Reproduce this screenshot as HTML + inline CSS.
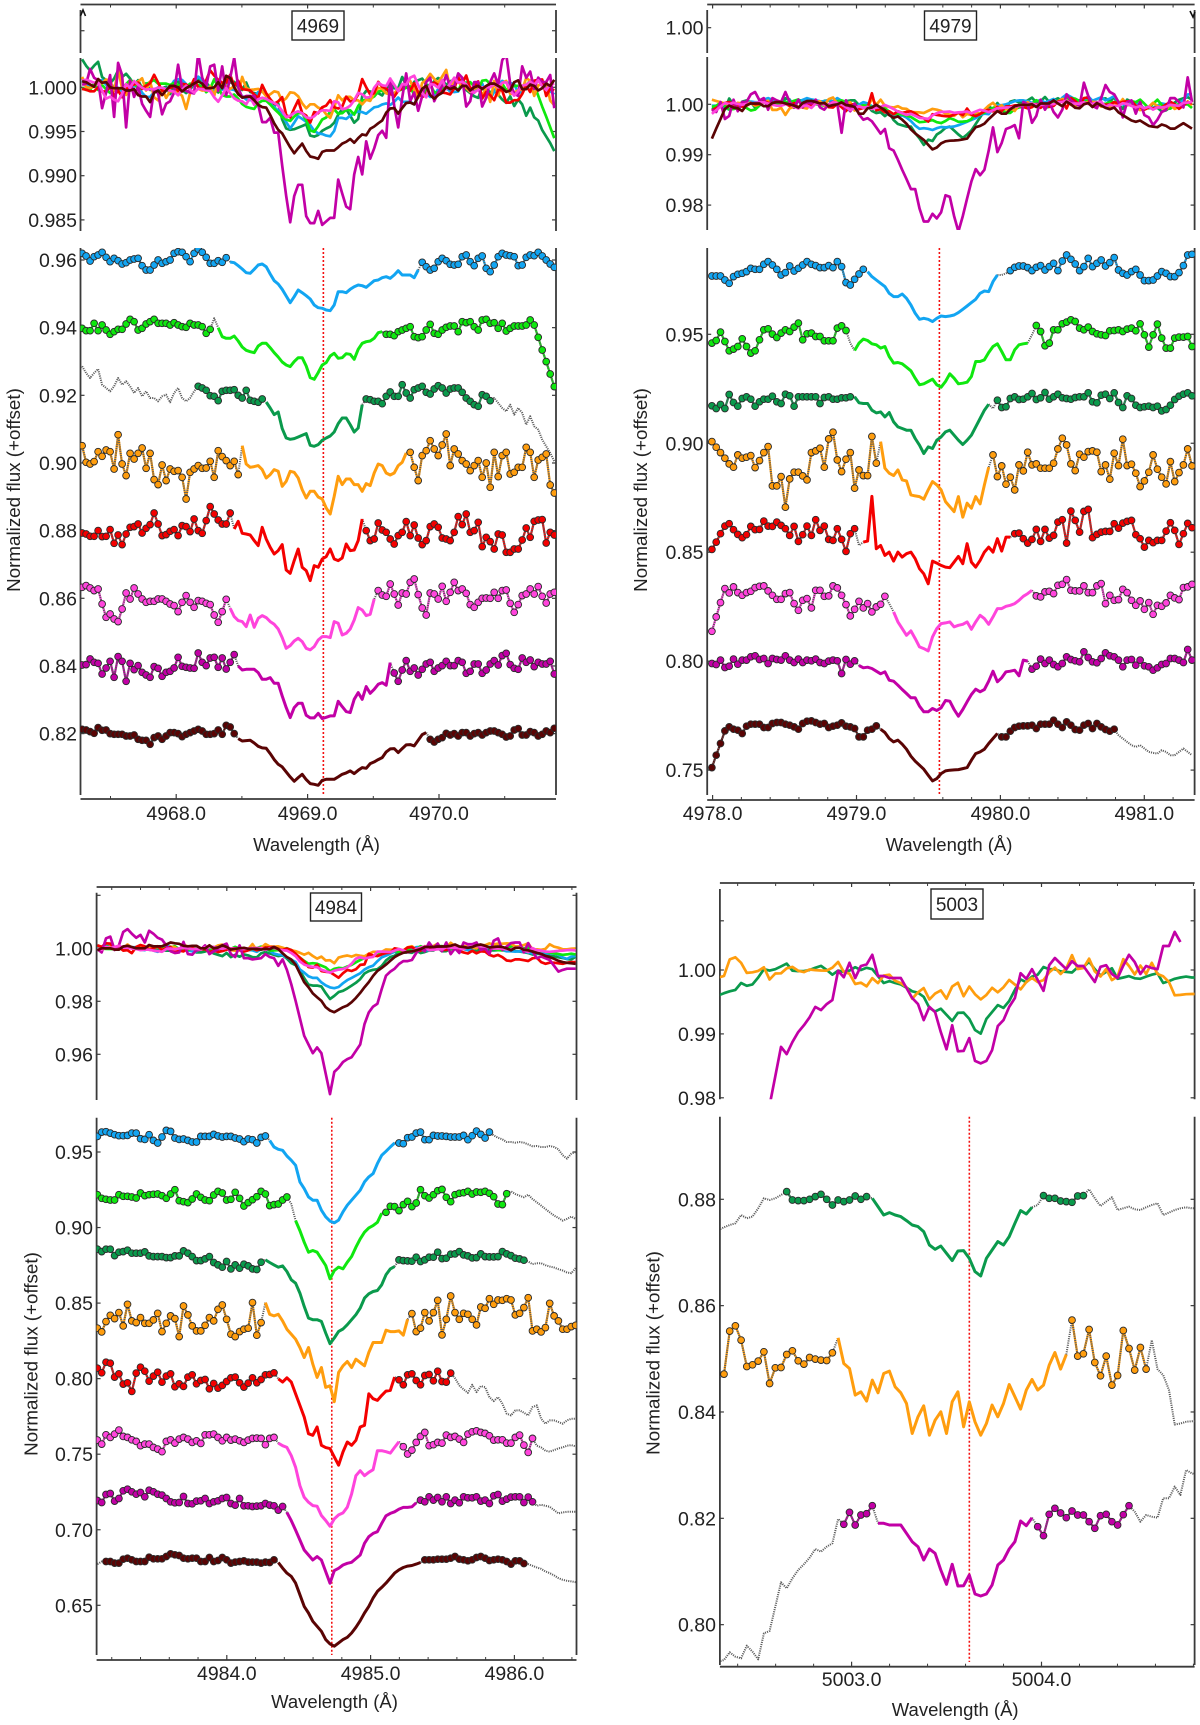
<!DOCTYPE html>
<html lang="en">
<head>
<meta charset="utf-8">
<title>Normalized flux line profiles</title>
<style>
html,body{margin:0;padding:0;background:#fff;}
svg{display:block;font-family:"Liberation Sans",sans-serif;}
text{fill:#222;}
</style>
</head>
<body>
<svg id="figure" width="1200" height="1725" viewBox="0 0 1200 1725" xmlns="http://www.w3.org/2000/svg"></svg>
<script>
/* ---------- shared series labels ---------- */
const seriesNames = ['blue','green','dark-green','orange','red','pink','magenta','maroon'];
const seriesColors = {'blue':'#12a5f2','green':'#0fe80f','dark-green':'#0a9a4c','orange':'#ff9d0e','red':'#f40000','pink':'#ff44dc','magenta':'#c200a6','maroon':'#5a0404'};
const upperDrawOrder = ['dark-green','blue','green','orange','red','magenta','pink','maroon'];

/* ---------- line 4969 ---------- */
const ticksX4969 = [4968,4969,4970];
const minorX4969 = [4967.5,4968.5,4969.5,4970.5];
const labelsX4969 = ['4968.0','4969.0','4970.0'];
const ticksUp4969 = [1.0064,1,0.995,0.99,0.985];
const labelsUp4969 = ['','1.000','0.995','0.990','0.985'];
const ticksLo4969 = [0.96,0.94,0.92,0.90,0.88,0.86,0.84,0.82];
const labelsLo4969 = ['0.96','0.94','0.92','0.90','0.88','0.86','0.84','0.82'];
const offsets4969 = [0.96,0.94,0.92,0.90,0.88,0.86,0.84,0.82];
const upperScale4969 = [0.37,0.33,0.37,0.23,0.27,0.23,1.0,0.53];
const windows4969 = [[0,36,37,84,85,118],[0,32,34,75,76,118],[29,45,46,70,71,102],[0,39,40,81,82,118],[0,37,38,70,71,118],[0,36,37,73,74,118],[0,38,39,77,78,118],[0,38,39,86,87,118]];
const flux4969Blue = [20,12,-3,10,15,23,8,-5,5,-2,-12,-8,0,3,5,-17,-30,-30,-15,0,-10,-5,0,20,25,23,10,-5,20,33,23,8,-10,-10,-2,-7,7,-6,-8,-17,-27,-38,-40,-28,-15,-12,-20,-42,-62,-72,-88,-108,-128,-110,-90,-98,-107,-117,-135,-143,-145,-150,-152,-135,-95,-95,-98,-88,-80,-75,-77,-82,-72,-62,-60,-53,-50,-55,-45,-32,-45,-45,-45,-53,-30,-7,-20,-30,-25,-5,5,-2,-13,-15,-13,10,15,-5,-17,5,12,-25,-35,-15,10,20,15,13,10,-17,-15,8,15,13,23,12,0,-12,-22];
const flux4969Green = [-2,-9,-9,13,-9,8,-7,-20,-12,-5,-5,11,25,18,-7,-2,11,18,25,13,13,13,8,15,8,3,1,13,8,8,3,-17,-5,28,0,-27,-32,-32,-25,-40,-58,-68,-72,-75,-55,-47,-47,-60,-75,-88,-103,-112,-117,-102,-90,-90,-115,-150,-155,-135,-112,-105,-85,-77,-92,-90,-78,-80,-95,-65,-47,-42,-40,-32,-15,-12,-20,-20,-24,-12,-7,-2,3,-27,-30,-27,-7,10,-17,-20,-7,1,5,5,-12,18,15,18,3,-7,23,25,13,15,-2,13,-10,-2,5,5,5,8,23,8,-29,-67,-102,-139,-177];
const flux4969DarkGreen = [87,67,52,67,79,32,22,12,27,52,32,42,27,7,22,-3,12,-8,-8,-18,-3,2,-21,7,22,-8,-18,-8,12,27,22,15,-1,-3,-16,12,15,15,17,0,-8,15,-15,-18,-21,-11,-20,-38,-58,-50,-100,-128,-132,-130,-125,-120,-115,-150,-153,-148,-135,-128,-122,-110,-85,-68,-68,-88,-110,-98,-28,-11,-13,-18,-18,-25,-3,10,-3,-3,32,7,-8,17,22,27,9,4,19,29,22,7,19,22,22,9,-8,-18,-28,-33,2,-3,-16,-8,-23,-38,-48,-28,-58,-38,-53,-88,-63,-93,-103,-133,-153,-173,-198];
const flux4969Orange = [52,2,-3,4,34,20,39,34,-18,85,-3,-38,29,12,29,45,-16,29,-50,-65,-6,-53,-18,-25,-23,-43,-108,-28,-18,-8,-16,-15,5,-43,37,19,7,-8,5,-35,52,-3,-13,-11,-8,-20,-45,-35,-20,-25,-70,-55,-25,-28,-45,-80,-105,-85,-85,-102,-108,-135,-153,-100,-40,-65,-48,-48,-65,-65,-85,-62,-68,-30,-3,-8,-30,-36,-30,-8,2,30,32,-13,-53,22,37,67,42,22,54,87,-8,42,27,7,-3,-23,-8,7,-43,0,-73,32,-41,22,32,-33,-28,-13,-13,47,32,-43,9,17,27,-66,-90];
const flux4969Red = [-7,-10,-17,-17,0,-18,-17,3,-38,-13,-42,-10,10,12,20,-7,7,18,53,20,-15,-12,-2,3,-15,15,12,-3,35,0,-8,30,72,50,32,20,20,53,5,28,-8,-10,-13,-30,-45,10,-25,-50,-70,-60,-42,-118,-128,-90,-55,-110,-120,-150,-105,-110,-85,-78,-55,-85,-90,-82,-40,-60,-58,-30,35,0,-30,-25,23,2,-5,-25,-40,-15,-5,27,-15,17,-22,-42,-30,12,20,10,-22,-25,-30,-5,42,18,50,-5,0,25,-48,-20,-33,-55,-10,-13,-65,-65,-55,-55,-28,8,-20,28,32,33,-37,-5,-13];
const flux4969Pink = [33,38,31,23,28,-17,-57,-47,-62,-70,-32,16,-2,31,13,-2,-12,-9,-9,-2,-2,-9,-17,-22,-40,-12,8,-12,-27,-7,-9,-15,-19,-50,-72,-40,-3,-30,-55,-67,-70,-85,-50,-87,-60,-52,-58,-70,-78,-92,-118,-150,-142,-128,-120,-130,-150,-155,-145,-125,-115,-115,-118,-70,-75,-110,-105,-92,-65,-28,-35,-52,-48,-2,23,10,6,43,13,-20,16,13,48,58,11,-29,-50,16,13,-2,36,-9,18,48,23,28,15,-19,-27,-12,0,1,0,18,0,23,25,-15,-42,-19,8,13,28,13,35,6,-14,13,18];
const flux4969Magenta = [3,4,21,11,8,-24,-6,14,-34,28,14,-46,8,-11,1,-19,-27,-34,-2,-7,-31,-19,-16,-6,26,-1,-4,-6,-7,39,11,1,24,26,-4,24,-9,11,34,0,-12,-10,-10,-10,-20,-40,-40,-35,-52,-52,-90,-125,-155,-125,-112,-112,-148,-156,-156,-142,-158,-154,-150,-150,-106,-122,-137,-140,-100,-80,-100,-62,-82,-70,-55,-50,-58,10,-21,-46,-12,16,-16,-6,-27,-10,6,11,-16,-6,1,14,1,1,16,11,-22,-16,6,6,-22,-12,6,16,3,31,38,4,-7,-10,24,11,18,-2,11,6,6,14,-24];
const flux4969Maroon = [13,11,6,1,18,10,11,0,-2,-2,-2,-7,-7,-4,-17,-20,-20,-32,-12,-7,-17,-7,3,3,0,-9,-2,3,8,13,8,-2,-2,0,11,-2,25,20,0,-15,-22,-21,-20,-28,-38,-43,-44,-60,-78,-92,-100,-115,-130,-143,-132,-122,-138,-150,-152,-155,-140,-137,-137,-137,-130,-122,-118,-112,-120,-110,-102,-104,-90,-85,-78,-72,-55,-46,-45,-57,-45,-34,-33,-37,-20,-3,3,-17,-25,-17,-12,1,-4,0,-7,3,3,-7,0,3,-4,3,8,8,3,-2,-10,-7,11,15,-4,-4,6,3,-7,-2,8,3,16];

/* ---------- line 4979 ---------- */
const ticksX4979 = [4978,4979,4980,4981];
const minorX4979 = [4978.2,4978.4,4978.6,4978.8,4979.2,4979.4,4979.6,4979.8,4980.2,4980.4,4980.6,4980.8,4981.2];
const labelsX4979 = ['4978.0','4979.0','4980.0','4981.0'];
const ticksUp4979 = [1.0152,1,0.99,0.98];
const labelsUp4979 = ['1.00','1.00','0.99','0.98'];
const ticksLo4979 = [0.95,0.90,0.85,0.80,0.75];
const labelsLo4979 = ['0.95','0.90','0.85','0.80','0.75'];
const offsets4979 = [0.978,0.949,0.919,0.8916,0.860,0.831,0.80,0.7706];
const upperScale4979 = [0.23,0.16,0.34,0.10,0.14,0.11,1.0,0.35];
const windows4979 = [[0,35,36,66,69,111],[0,31,33,73,75,111],[0,32,33,64,66,111],[0,38,39,64,65,111],[0,33,35,69,70,111],[0,40,42,74,75,111],[0,33,34,73,74,111],[0,38,39,66,67,93]];
const flux4979Blue = [-8,-8,-8,-20,-30,-10,-3,0,5,15,12,12,27,35,25,12,-5,2,22,7,15,25,35,27,23,17,17,23,17,35,20,-28,-35,-18,-2,12,5,-10,-20,-30,-40,-60,-70,-70,-62,-75,-95,-120,-138,-135,-138,-145,-135,-128,-130,-128,-125,-118,-108,-98,-88,-78,-60,-53,-55,-25,-5,-5,0,8,18,22,22,17,8,18,23,10,20,30,8,37,55,42,28,8,20,45,20,30,40,22,32,47,10,0,-5,5,12,-5,-22,-22,-20,-8,5,0,-10,-10,2,23,55,57];
const flux4979Green = [-20,-12,13,-15,-43,-38,-30,-7,-30,-50,-43,-10,20,23,7,-3,10,20,15,28,40,-10,8,10,0,0,-13,-13,-13,25,32,18,-20,-42,-20,-8,-12,-22,-25,-35,-30,-60,-80,-78,-82,-92,-103,-125,-145,-142,-135,-128,-145,-152,-135,-112,-125,-142,-140,-137,-120,-75,-75,-70,-48,-30,-22,-45,-70,-70,-40,-25,-22,-20,5,33,15,-28,-20,20,20,38,43,50,45,25,20,28,15,8,5,3,17,18,20,15,22,25,17,38,5,-32,5,37,-5,-35,-35,-5,-2,-2,0,-30];
const flux4979DarkGreen = [-12,-20,-8,-20,22,-2,-13,10,15,8,-13,0,8,8,17,0,-5,23,18,-13,15,15,15,15,15,-5,13,15,8,8,12,12,15,15,-3,-5,-5,-25,-33,-30,-45,-32,-60,-75,-80,-85,-85,-110,-130,-155,-135,-140,-115,-105,-90,-85,-100,-115,-128,-115,-100,-75,-50,-25,-7,-20,5,-17,-15,10,15,7,8,15,25,7,12,28,8,15,23,12,10,8,13,15,15,27,0,-3,20,23,10,27,-2,-17,18,10,-10,-17,-15,-13,-17,-13,-27,-23,-10,7,17,23,27,18];
const flux4979Orange = [60,43,27,10,-7,-17,20,10,13,18,-18,3,27,45,-73,-73,-45,-137,-52,-32,-32,-43,-55,27,32,40,-17,68,88,5,-30,7,27,-80,-25,-42,-42,75,-5,60,-20,-35,-42,-25,-55,-58,-100,-103,-105,-113,-85,-60,-70,-85,-120,-135,-150,-105,-167,-125,-140,-105,-127,-70,-17,20,-45,-13,-68,-47,-85,-10,-28,28,-10,-7,-20,-20,-20,-5,38,70,50,-7,-27,22,13,30,32,28,-30,-10,-53,25,-12,67,-12,-8,-35,-75,-58,-32,20,-23,-47,-67,0,-60,-33,-10,38,-13];
const flux4979Red = [-57,-35,-10,13,20,2,-12,-22,-13,12,2,3,28,13,12,25,15,5,-15,12,-33,-13,13,-15,32,0,13,-27,-30,5,-27,-63,-10,5,-45,-35,-32,102,-55,-45,-75,-65,-92,-65,-80,-70,-65,-85,-115,-130,-160,-92,-98,-105,-110,-112,-95,-78,-100,-40,-95,-110,-90,-65,-50,-65,-25,-62,-20,-20,-10,-8,-25,-38,-27,3,-33,3,-23,-15,25,32,-38,58,30,-5,57,63,-22,-12,-5,-3,-3,20,7,22,27,30,-13,-25,-50,-30,-37,-30,-30,-2,23,0,-42,-10,21,8];
const flux4979Pink = [-113,-70,-27,15,2,20,3,-5,3,7,18,22,23,8,-5,-17,-17,0,3,-30,-50,-20,-15,-43,10,10,-8,-7,23,17,-5,-33,-67,-47,-23,-43,-30,-55,-40,-32,-8,-30,-55,-85,-105,-125,-112,-135,-160,-165,-172,-130,-105,-90,-88,-85,-100,-95,-92,-85,-107,-85,-65,-75,-92,-70,-45,-45,-38,-35,-30,-20,-8,0,10,-7,-10,5,7,0,25,28,42,10,8,8,23,3,3,23,30,-30,-5,-20,-18,13,3,-20,-35,-22,-47,-27,-62,-35,-38,-28,-5,-13,-18,18,20,28];
const flux4979Magenta = [-7,-10,3,-19,-15,6,-9,3,3,13,16,5,8,-7,8,5,3,16,3,-4,6,-4,3,1,6,-4,-7,0,3,1,-37,5,-9,1,-13,-20,-18,-22,-30,-38,-32,-57,-60,-72,-85,-97,-110,-110,-135,-152,-152,-142,-148,-140,-118,-120,-145,-165,-145,-122,-100,-84,-92,-85,-60,-30,-62,-50,-32,-30,-27,-44,3,0,-24,-15,6,-7,3,-10,-17,-7,13,5,1,-2,28,11,-2,-5,8,25,16,13,3,-17,3,5,-12,3,-14,-17,-27,-20,-10,-7,8,8,3,-4,35,3];
const flux4979Maroon = [-127,-90,-55,-17,-5,-12,-15,-25,-3,3,3,3,-7,-7,5,8,8,3,0,-5,-12,5,12,13,8,3,5,-7,-3,0,7,-3,-5,-10,-35,-35,-15,-12,-2,-12,-22,-40,-50,-45,-57,-72,-93,-108,-120,-132,-150,-167,-160,-145,-137,-135,-134,-133,-130,-127,-105,-85,-80,-72,-55,-40,-25,-35,-35,-18,-7,-3,-2,-2,0,-10,3,3,3,15,3,-7,10,0,-13,-15,0,5,-10,5,-5,-13,-18,-12,-30,-40,-50,-60,-65,-60,-70,-80,-83,-85,-75,-80,-90,-90,-80,-70,-80,-90];

/* ---------- line 4984 ---------- */
const ticksX4984 = [4984,4985,4986];
const minorX4984 = [4983.2,4983.4,4983.6,4983.8,4984.2,4984.4,4984.6,4984.8,4985.2,4985.4,4985.6,4985.8,4986.2,4986.4];
const labelsX4984 = ['4984.0','4985.0','4986.0'];
const ticksUp4984 = [1.02,1,0.98,0.96];
const labelsUp4984 = ['','1.00','0.98','0.96'];
const ticksLo4984 = [0.95,0.90,0.85,0.80,0.75,0.70,0.65];
const labelsLo4984 = ['0.95','0.90','0.85','0.80','0.75','0.70','0.65'];
const offsets4984 = [0.961,0.92,0.883,0.836,0.801,0.76,0.7196,0.679];
const upperScale4984 = [0.26,0.16,0.32,0.11,0.19,0.16,1.0,0.43];
const windows4984 = [[0,39,40,69,70,91],[0,44,46,66,67,95],[0,38,39,69,70,99],[0,38,39,72,73,111],[0,41,42,69,70,82],[0,41,42,70,71,101],[0,43,44,74,75,101],[2,41,42,75,76,99]];
const flux4984Blue = [-3,10,11,7,2,-1,-1,0,7,7,-10,-12,2,-15,-23,-5,15,12,-8,-12,-11,-15,-20,-20,-3,-3,-3,3,-2,-5,-3,-3,-8,-11,-19,-11,-13,-23,-6,-2,-15,-35,-42,-45,-62,-75,-90,-140,-160,-185,-195,-195,-225,-245,-258,-263,-255,-230,-210,-195,-180,-165,-140,-125,-115,-85,-60,-48,-35,-23,-23,-25,-7,-5,7,10,-13,-13,0,-2,-2,-3,-5,-5,-5,0,-13,-1,13,3,-8,10,0,-7,-12,-20,-20,-22,-20,-22,-27,-33,-32,-35,-35,-32,-35,-42,-60,-70,-55,-50];
const flux4984Green = [8,-3,-6,-8,-8,8,3,3,1,-2,13,5,8,9,10,5,-3,10,23,-10,-13,-16,-5,10,0,-8,-10,7,18,13,-8,-6,15,-3,-26,-16,-7,2,18,10,-25,-22,-20,-8,1,-20,-70,-100,-135,-165,-160,-165,-185,-205,-245,-220,-210,-215,-195,-178,-150,-125,-105,-92,-85,-75,-48,-45,-27,-28,-40,-22,-12,-28,-17,23,5,-2,8,20,24,0,-13,8,12,14,18,10,16,15,18,12,2,-20,-22,11,18,10,5,0,8,-5,-15,-25,-35,-45,-55,-62,-70,-65,-58,-65];
const flux4984DarkGreen = [12,5,12,12,-7,3,5,9,0,0,0,4,-8,-10,-10,-10,-13,-13,-8,-8,7,0,-10,-22,-22,-17,-10,-28,-35,-42,-25,-47,-35,-45,-33,-38,-47,-49,-27,-20,-28,-35,-42,-38,-55,-80,-90,-120,-160,-195,-200,-200,-205,-240,-272,-255,-235,-228,-215,-200,-185,-165,-135,-122,-115,-112,-95,-65,-47,-40,-20,-22,-23,-24,-12,-25,-20,-12,-12,3,-16,-15,-3,-2,5,-5,-8,-14,-13,-2,-10,-11,-11,-10,5,-2,-7,-15,-17,-21,-25,-33,-30,-30,-36,-40,-43,-48,-52,-58,-60,-45];
const flux4984Orange = [-12,-23,8,27,17,35,-5,60,10,5,20,3,3,13,33,-22,3,25,17,-37,55,28,-5,-20,-20,-3,20,10,45,58,15,-30,-37,-22,-15,-12,65,-33,5,65,30,25,30,10,-15,-30,-45,-70,-100,-70,-120,-160,-130,-190,-185,-233,-145,-125,-112,-130,-105,-115,-125,-85,-55,-55,-55,-18,-22,-22,-20,-33,15,32,-22,-12,35,10,35,72,-32,15,85,35,15,33,30,15,-2,52,48,77,60,73,72,77,73,28,33,50,80,-20,-15,-23,-10,63,25,10,-15,-15,-7,-3];
const flux4984Red = [27,13,45,42,0,10,-21,-17,-43,12,30,18,-12,3,15,-15,3,10,-29,-20,-28,0,7,-20,-10,-7,-35,-19,-33,-25,-13,-2,0,-17,-30,-18,-2,-17,-7,7,8,13,-5,-15,-2,-15,-50,-85,-120,-170,-175,-150,-205,-212,-215,-240,-265,-225,-195,-205,-190,-150,-145,-50,-65,-70,-55,-42,-40,0,-8,-23,7,10,-10,-23,5,8,-11,18,-13,-15,12,-3,-25,-37,-47,-23,-45,-27,-30,-60,-72,-60,-80,-110,-115,-100,-100,-107,-115,-90,-85,-125,-140,-130,-130,-135,-140,-130,-125,-125];
const flux4984Pink = [-3,-15,13,5,15,27,8,5,-2,-7,-20,-15,-15,-25,-30,-38,-7,-2,-12,0,5,0,-10,-5,-13,13,13,15,5,-5,5,-3,0,-5,-10,-3,2,3,2,-17,2,5,-12,-20,-25,-50,-85,-140,-175,-190,-200,-202,-230,-245,-262,-240,-228,-222,-205,-165,-110,-95,-110,-100,-92,-35,-35,-38,-42,-25,-8,-23,-45,-33,-10,8,20,-20,-17,-10,-12,12,5,8,0,-10,15,22,25,20,17,10,-3,-2,-2,-12,-12,5,12,-18,-40,2,-20,-25,-35,-38,-33,-28,-25,-20,-18,-22];
const flux4984Magenta = [-1,-7,17,20,-3,5,28,33,25,18,23,10,30,25,18,15,5,-5,-8,-7,11,-10,-11,-3,-2,5,-10,-5,-2,5,8,-10,-15,5,-17,-17,-19,-18,-17,-10,-15,-17,-30,-19,-37,-62,-90,-120,-150,-165,-180,-170,-180,-215,-250,-212,-205,-195,-190,-187,-176,-165,-130,-110,-100,-95,-70,-47,-40,-35,-27,-22,-22,-20,-8,0,-5,10,0,8,-5,10,-10,0,-8,10,7,7,10,-3,0,-10,13,17,-3,3,9,10,10,-7,9,-5,-17,-14,-17,-20,-30,-40,-37,-35,-35,-35];
const flux4984Maroon = [-8,0,0,0,-5,-5,7,10,5,0,0,0,13,8,8,8,15,23,20,18,10,8,10,10,0,0,12,0,3,12,5,-5,-2,0,2,-2,-2,-2,-5,-2,-3,5,-3,-20,-35,-45,-65,-100,-135,-155,-180,-195,-210,-235,-248,-255,-245,-235,-228,-215,-198,-178,-155,-135,-110,-90,-78,-65,-50,-35,-25,-18,-14,-12,-8,-3,5,5,5,7,7,7,10,15,7,5,2,5,12,15,10,3,5,7,5,0,-8,2,2,-6,-8,-13,-18,-22,-30,-35,-42,-50,-55,-58,-60,-62];

/* ---------- line 5003 ---------- */
const seriesNames5003 = ['dark-green','orange','magenta'];
const ticksX5003 = [5003,5004];
const minorX5003 = [5002.4,5002.6,5002.8,5003.2,5003.4,5003.6,5003.8,5004.2,5004.4,5004.6,5004.8];
const labelsX5003 = ['5003.0','5004.0'];
const ticksUp5003 = [1.0077,1,0.99,0.98];
const labelsUp5003 = ['','1.00','0.99','0.98'];
const ticksLo5003 = [0.88,0.86,0.84,0.82,0.80];
const labelsLo5003 = ['0.88','0.86','0.84','0.82','0.80'];
const offsets5003 = [0.88,0.85,0.82];
const upperScale5003 = [0.69,0.32,1.0];
const windows5003 = [[12,26,27,55,57,64],[1,20,21,61,62,75],[22,27,28,55,56,72]];
const upperLastIndex5003 = [84,84,81];
const flux5003DarkGreen = [-92,-84,-77,-72,-47,-57,-52,-27,3,-2,3,13,23,-2,-4,-4,0,8,15,0,-17,-2,-7,-2,10,0,8,3,-22,-47,-40,-47,-52,-64,-77,-82,-97,-137,-150,-140,-162,-184,-155,-154,-177,-217,-230,-177,-152,-127,-137,-112,-72,-34,-44,-24,-17,11,3,3,-5,-7,-9,10,11,30,3,-20,-7,6,-32,-27,-22,-30,-32,-24,-17,-12,-47,-40,-32,-27,-24,-27,-27];
const flux5003Orange = [-59,-46,83,99,56,-23,-18,-7,21,-74,-27,-26,13,24,-6,-16,4,-1,-4,-5,18,63,-14,-29,-109,-99,-127,-64,-102,-44,-37,-84,-102,-134,-224,-174,-141,-229,-184,-159,-224,-129,-99,-204,-129,-189,-229,-194,-139,-174,-134,-77,-114,-151,-94,-62,-94,-79,-19,19,-31,13,116,8,15,88,-11,-51,8,-79,-50,85,31,-34,34,-31,56,-31,-49,-94,-197,-194,-189,-187,-187];
const flux5003Magenta = [-430,-425,-402,-415,-420,-382,-400,-423,-345,-338,-265,-192,-210,-180,-155,-138,-118,-92,-100,-85,-75,-2,-18,18,-20,10,14,38,-15,-15,-20,-20,-20,-45,-70,-85,-125,-92,-105,-155,-198,-138,-203,-202,-170,-227,-233,-227,-200,-140,-125,-92,-70,-8,-22,2,-25,-52,12,30,16,2,22,10,10,-10,-30,8,12,-10,-20,11,38,20,-10,10,5,2,60,60,95,70,145,135,130];

/* ---------- panel geometry (pixels) ---------- */
const panels = [
 {id:'4969',names:seriesNames,flux:[flux4969Blue,flux4969Green,flux4969DarkGreen,flux4969Orange,flux4969Red,flux4969Pink,flux4969Magenta,flux4969Maroon],
  offsets:offsets4969,upperScale:upperScale4969,windows:windows4969,upperLast:null,
  start:4967.284,step:0.03045,unit:0.0000985,restLine:4969.12,
  left:80.5,right:556,xRef:4968,xRefPx:176.2,pxPerA:131.4,
  topAxis:4.5,bottomAxis:799,upTop:10,upBottom:231,upGap:[53,58],loTop:248,loBottom:795,redBottom:795,
  upY1:87.3,upK:8840,loRefF:0.96,loRefPx:260,loK:3383,
  tx:ticksX4969,mx:minorX4969,lx:labelsX4969,tu:ticksUp4969,lu:labelsUp4969,tl:ticksLo4969,ll:labelsLo4969,
  labelRight:77,xLabelBase:820,titleX:316.5,titleBase:851,yTitleX:20,yTitleY:490,box:[292,11,52,29],speck:[80.5,16,83,10,85.5,16]},
 {id:'4979',names:seriesNames,flux:[flux4979Blue,flux4979Green,flux4979DarkGreen,flux4979Orange,flux4979Red,flux4979Pink,flux4979Magenta,flux4979Maroon],
  offsets:offsets4979,upperScale:upperScale4979,windows:windows4979,upperLast:null,
  start:4977.995,step:0.03006,unit:0.000153,restLine:4979.576,
  left:707.2,right:1194.6,xRef:4979,xRefPx:856.5,pxPerA:143.9,
  topAxis:4.5,bottomAxis:800,upTop:10,upBottom:230,upGap:[53,57],loTop:248,loBottom:795,redBottom:795,
  upY1:104.3,upK:5040,loRefF:0.95,loRefPx:334.3,loK:2179,
  tx:ticksX4979,mx:minorX4979,lx:labelsX4979,tu:ticksUp4979,lu:labelsUp4979,tl:ticksLo4979,ll:labelsLo4979,
  labelRight:703.5,xLabelBase:820,titleX:949,titleBase:851,yTitleX:647,yTitleY:490,box:[924.5,11,52,29],speck:[1190,11,1193,17,1195,12]},
 {id:'4984',names:seriesNames,flux:[flux4984Blue,flux4984Green,flux4984DarkGreen,flux4984Orange,flux4984Red,flux4984Pink,flux4984Magenta,flux4984Maroon],
  offsets:offsets4984,upperScale:upperScale4984,windows:windows4984,upperLast:null,
  start:4983.1,step:0.02996,unit:0.00022,restLine:4984.73,
  left:96.6,right:576.5,xRef:4985,xRefPx:370.6,pxPerA:143.8,
  topAxis:887,bottomAxis:1660,upTop:892.7,upBottom:1100,upGap:null,loTop:1117.7,loBottom:1655,redBottom:1655,
  upY1:948.3,upK:2650,loRefF:0.95,loRefPx:1152,loK:1511,
  tx:ticksX4984,mx:minorX4984,lx:labelsX4984,tu:ticksUp4984,lu:labelsUp4984,tl:ticksLo4984,ll:labelsLo4984,
  labelRight:93,xLabelBase:1680,titleX:334.5,titleBase:1708,yTitleX:37.5,yTitleY:1354,box:[310.5,893,51,28],speck:null},
 {id:'5003',names:seriesNames5003,flux:[flux5003DarkGreen,flux5003Orange,flux5003Magenta],
  offsets:offsets5003,upperScale:upperScale5003,windows:windows5003,upperLast:upperLastIndex5003,
  start:5002.298,step:0.03004,unit:0.0000627,restLine:5003.62,
  left:719.9,right:1194.6,xRef:5003,xRefPx:851.6,pxPerA:189.9,
  topAxis:883,bottomAxis:1666.7,upTop:889,upBottom:1099.3,upGap:null,loTop:1116.7,loBottom:1665,redBottom:1662,
  upY1:970,upK:6390,loRefF:0.88,loRefPx:1199.3,loK:5317,
  tx:ticksX5003,mx:minorX5003,lx:labelsX5003,tu:ticksUp5003,lu:labelsUp5003,tl:ticksLo5003,ll:labelsLo5003,
  labelRight:716,xLabelBase:1686,titleX:955.2,titleBase:1716,yTitleX:659.5,yTitleY:1353,box:[931,889,52,30],speck:null}
];

/* ---------- axis functions ---------- */
function xPos(p,lam){return p.xRefPx+(lam-p.xRef)*p.pxPerA;}
function upperY(p,f){return p.upY1-(f-1)*p.upK;}
function lowerY(p,f){return p.loRefPx+(p.loRefF-f)*p.loK;}
function lamAt(p,i){return p.start+p.step*i;}

const svg=document.getElementById('figure');
const NS='http://www.w3.org/2000/svg';
function make(tag,attrs,parent){
  const el=document.createElementNS(NS,tag);
  for(const k in attrs){el.setAttribute(k,attrs[k]);}
  parent.appendChild(el);
  return el;
}
function axisLine(g,x1,y1,x2,y2,name,w){
  const el=make('line',{x1:x1,y1:y1,x2:x2,y2:y2,stroke:'#3a3a3a','stroke-width':w||1.8},g);
  
  
  return el;
}
function tickLabel(g,x,y,str,anchor,name,size){
  const el=make('text',{x:x,y:y,'text-anchor':anchor,'font-size':size||19.5},g);
  
  
  el.textContent=str;
  return el;
}
function pointsFor(p,vals,from,to,yFn){
  const out=[];
  for(let i=Math.max(0,from);i<=Math.min(vals.length-1,to);i++){
    out.push(xPos(p,lamAt(p,i)).toFixed(1)+','+yFn(vals[i]).toFixed(1));
  }
  return out.join(' ');
}
function polyline(g,pts,stroke,width,dash,name){
  const el=make('polyline',{points:pts,fill:'none',stroke:stroke,'stroke-width':width,'stroke-linejoin':'round'},g);
  if(dash){el.setAttribute('stroke-dasharray',dash);}
  
  
  return el;
}

panels.forEach(function(p){
  const panel=make('g',{},svg);
  
  

  const clipTop=p.upGap?p.upGap[1]:p.upTop;
  const defs=make('defs',{},panel);
  const cu=make('clipPath',{id:'clip-up-'+p.id},defs);
  make('rect',{x:p.left,y:clipTop,width:p.right-p.left,height:p.upBottom-clipTop},cu);
  const cl=make('clipPath',{id:'clip-lo-'+p.id},defs);
  make('rect',{x:p.left,y:p.loTop,width:p.right-p.left,height:p.loBottom-p.loTop},cl);

  /* axes */
  const axes=make('g',{},panel);
  
  
  axisLine(axes,p.left,p.topAxis,p.right,p.topAxis,'top-axis');
  axisLine(axes,p.left,p.bottomAxis,p.right,p.bottomAxis,'x-axis');
  [p.left,p.right].forEach(function(x,idx){
    const side=idx?'right':'left';
    if(p.upGap){
      axisLine(axes,x,p.upTop,x,p.upGap[0],side+'-axis-upper-top');
      axisLine(axes,x,p.upGap[1],x,p.upBottom,side+'-axis-upper');
    }else{
      axisLine(axes,x,p.upTop,x,p.upBottom,side+'-axis-upper');
    }
    axisLine(axes,x,p.loTop,x,p.loBottom,side+'-axis-lower');
  });
  p.tx.forEach(function(v,i){
    const x=xPos(p,v);
    axisLine(axes,x,p.topAxis,x,p.topAxis+4,'top-major-tick',1.2);
    axisLine(axes,x,p.bottomAxis,x,p.bottomAxis-5,'x-major-tick',1.2);
    tickLabel(axes,x,p.xLabelBase,p.lx[i],'middle','x-tick-label');
  });
  p.mx.forEach(function(v){
    const x=xPos(p,v);
    axisLine(axes,x,p.topAxis,x,p.topAxis+3,'top-minor-tick',1);
    axisLine(axes,x,p.bottomAxis,x,p.bottomAxis-3,'x-minor-tick',1);
  });
  p.tu.forEach(function(v,i){
    const y=upperY(p,v);
    axisLine(axes,p.left,y,p.left+4,y,'upper-y-tick',1.2);
    axisLine(axes,p.right,y,p.right-4,y,'upper-y-tick-right',1.2);
    if(p.lu[i]){tickLabel(axes,p.labelRight,y+7,p.lu[i],'end','upper-y-tick-label');}
  });
  p.tl.forEach(function(v,i){
    const y=lowerY(p,v);
    axisLine(axes,p.left,y,p.left+4,y,'lower-y-tick',1.2);
    axisLine(axes,p.right,y,p.right-4,y,'lower-y-tick-right',1.2);
    tickLabel(axes,p.labelRight,y+7,p.ll[i],'end','lower-y-tick-label');
  });
  tickLabel(axes,p.titleX,p.titleBase,'Wavelength (Å)','middle','x-axis-title',18.5);
  const yt=tickLabel(axes,p.yTitleX,p.yTitleY,'Normalized flux (+offset)','middle','y-axis-title',18.8);
  yt.setAttribute('transform','rotate(-90 '+p.yTitleX+' '+p.yTitleY+')');
  if(p.speck){
    const sp=make('polyline',{points:p.speck.join(' '),fill:'none',stroke:'#111','stroke-width':1.6},axes);
    
    
  }

  /* upper overlay */
  const up=make('g',{'clip-path':'url(#clip-up-'+p.id+')'},panel);
  
  
  upperDrawOrder.forEach(function(n){
    const s=p.names.indexOf(n);
    if(s<0){return;}
    const last=p.upperLast?p.upperLast[s]:p.flux[s].length-1;
    const yFn=function(v){return upperY(p,1+v*p.unit*p.upperScale[s]);};
    polyline(up,pointsFor(p,p.flux[s],0,last,yFn),seriesColors[n],2.7,null,'overlay-line-'+n);
  });

  /* rest wavelength marker */
  const rx=xPos(p,p.restLine);
  const red=make('line',{x1:rx,y1:p.loTop,x2:rx,y2:p.redBottom,stroke:'#f41010','stroke-width':1.6,'stroke-dasharray':'2 2'},panel);
  
  

  /* lower offset spectra */
  const lo=make('g',{'clip-path':'url(#clip-lo-'+p.id+')'},panel);
  
  
  p.names.forEach(function(n,s){
    const g=make('g',{},lo);
    
    
    const vals=p.flux[s], w=p.windows[s], c=seriesColors[n];
    const yFn=function(v){return lowerY(p,p.offsets[s]+v*p.unit);};
    polyline(g,pointsFor(p,vals,w[0],w[1],yFn),c,2.2,null,'continuum-link-left');
    polyline(g,pointsFor(p,vals,w[4],w[5],yFn),c,2.2,null,'continuum-link-right');
    polyline(g,pointsFor(p,vals,0,w[2],yFn),'#5c5c5c',2,'1.1 1.1','spectrum-dotted-left');
    polyline(g,pointsFor(p,vals,w[3],vals.length-1,yFn),'#5c5c5c',2,'1.1 1.1','spectrum-dotted-right');
    polyline(g,pointsFor(p,vals,w[2],w[3],yFn),c,3,null,'line-profile-'+n);
    for(let i=0;i<vals.length;i++){
      if((i>=w[0]&&i<=w[1])||(i>=w[4]&&i<=w[5])){
        const dot=make('circle',{cx:xPos(p,lamAt(p,i)).toFixed(1),cy:yFn(vals[i]).toFixed(1),r:3.4,fill:c,stroke:'#2a2a2a','stroke-width':0.9},g);
        
        
      }
    }
  });

  /* line id box */
  const b=make('g',{},panel);
  
  
  make('rect',{x:p.box[0],y:p.box[1],width:p.box[2],height:p.box[3],fill:'#fff',stroke:'#222','stroke-width':1.4},b);
  tickLabel(b,p.box[0]+p.box[2]/2,p.box[1]+p.box[3]/2+7,p.id,'middle','line-id-label',19);
});
</script>
</body>
</html>
